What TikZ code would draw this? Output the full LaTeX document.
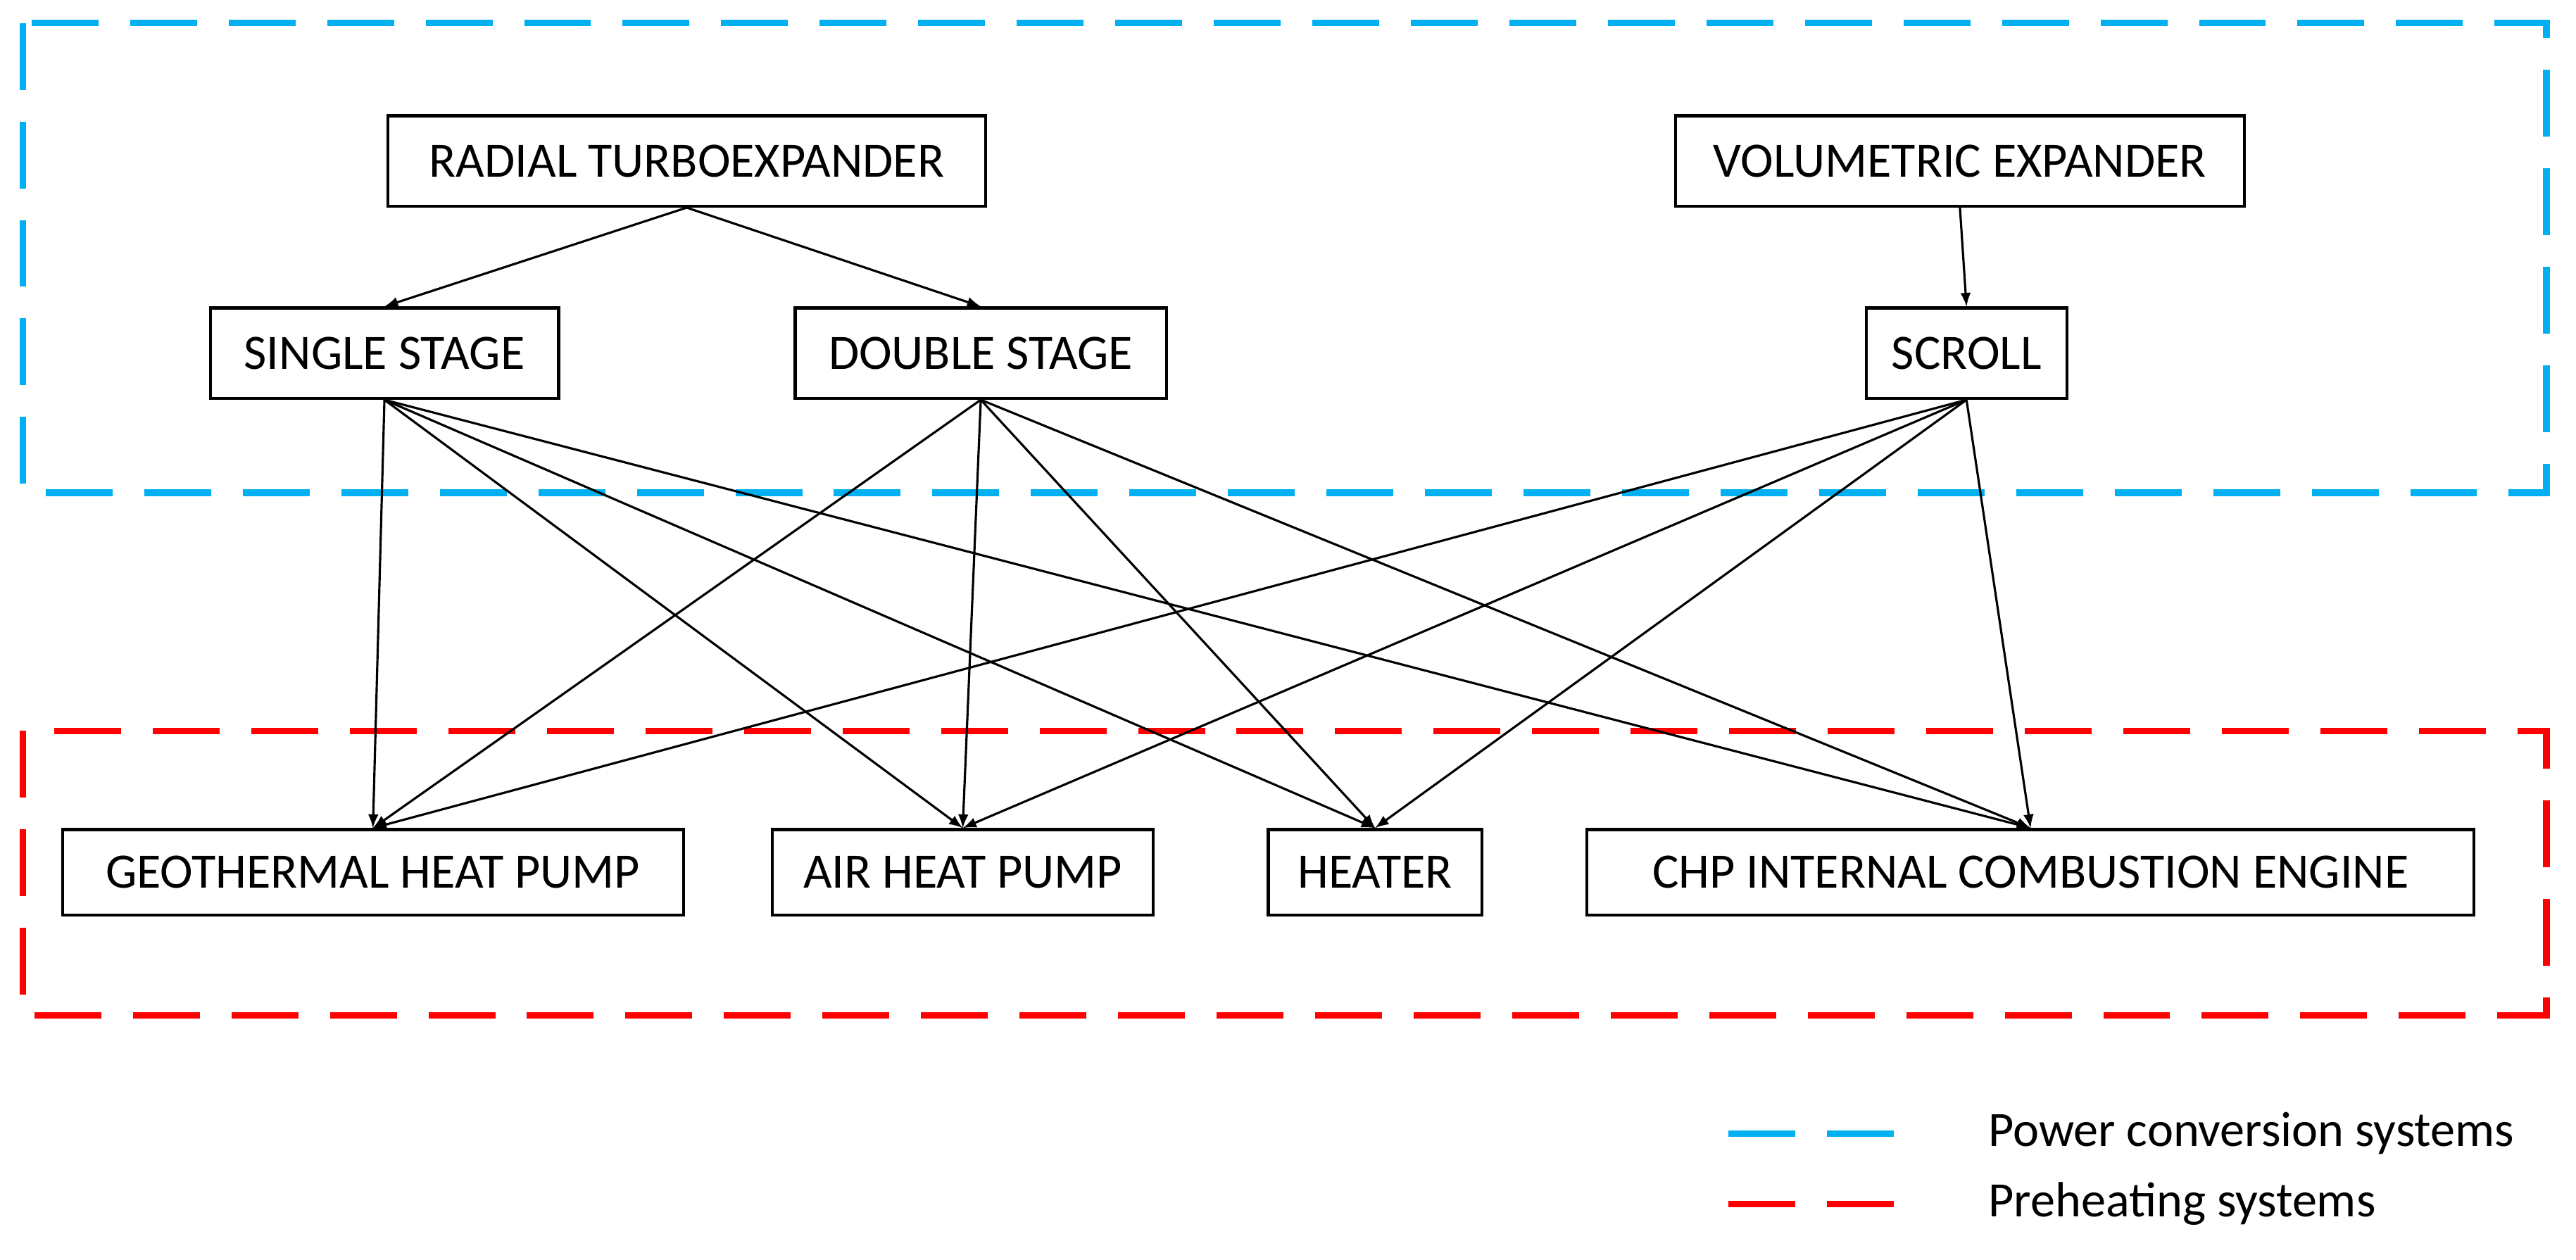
\documentclass[tikz,border=0pt]{standalone}
\usepackage{fontspec}
\setmainfont{Carlito}
\begin{document}
\begin{tikzpicture}[x=0.02334cm,y=-0.02334cm,
 box/.style={draw,line width=1.2pt,inner sep=0pt,minimum height=55*0.02334cm,font=\fontsize{20}{24}\selectfont},
 arr/.style={-latex,line width=0.9pt},
 blued/.style={draw={rgb,255:red,0;green,176;blue,240},line width=2.6pt,dash pattern=on 0.95cm off 0.45cm},
 redd/.style={draw=red,line width=2.6pt,dash pattern=on 0.95cm off 0.45cm}]
\useasboundingbox (0,0) rectangle (1568,767);
\draw[blued] (14,14) rectangle (1550,300);
\draw[redd] (14,445) rectangle (1550,618);
\node[box,minimum width=364*0.02334cm] (rt) at (418,98) {RADIAL TURBOEXPANDER};
\node[box,minimum width=346*0.02334cm] (ve) at (1193,98) {VOLUMETRIC EXPANDER};
\node[box,minimum width=212*0.02334cm] (ss) at (234,215) {SINGLE STAGE};
\node[box,minimum width=226*0.02334cm] (ds) at (597,215) {DOUBLE STAGE};
\node[box,minimum width=122*0.02334cm] (sc) at (1197,215) {SCROLL};
\node[box,minimum width=378*0.02334cm,minimum height=52*0.02334cm] (geo) at (227,531) {GEOTHERMAL HEAT PUMP};
\node[box,minimum width=232*0.02334cm,minimum height=52*0.02334cm] (air) at (586,531) {AIR HEAT PUMP};
\node[box,minimum width=130*0.02334cm,minimum height=52*0.02334cm] (he) at (837,531) {HEATER};
\node[box,minimum width=540*0.02334cm,minimum height=52*0.02334cm] (chp) at (1236,531) {CHP INTERNAL COMBUSTION ENGINE};
\draw[arr] (rt.south) -- (ss.north);
\draw[arr] (rt.south) -- (ds.north);
\draw[arr] (ve.south) -- (sc.north);
\foreach \s in {ss,ds,sc}{
 \foreach \t in {geo,air,he,chp}{
  \draw[arr] (\s.south) -- (\t.north);
 }
}
\coordinate (b1) at (1052,690); \coordinate (b2) at (1162,690);
\coordinate (r1) at (1052,733); \coordinate (r2) at (1162,733);
\draw[blued] (b1) -- (b2);
\draw[redd] (r1) -- (r2);
\node[anchor=west,font=\fontsize{20}{24}\selectfont,inner sep=0pt] (lp) at (1210,690) {Power conversion systems};
\node[anchor=west,font=\fontsize{20}{24}\selectfont,inner sep=0pt] (lh) at (1210,733) {Preheating systems};
\end{tikzpicture}
\end{document}
